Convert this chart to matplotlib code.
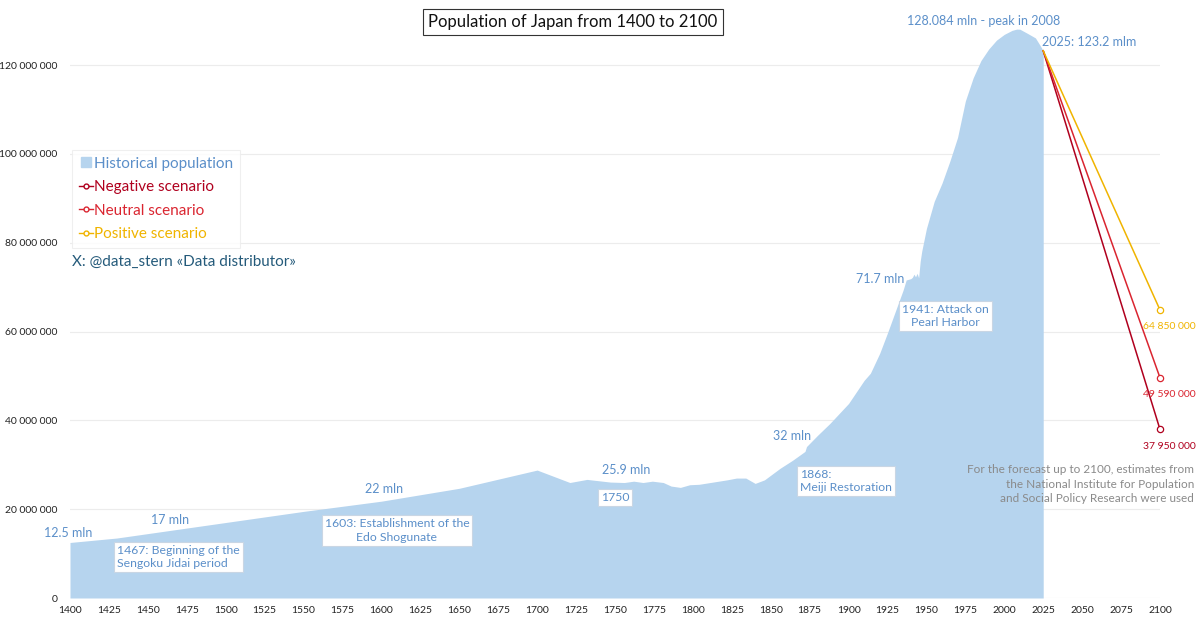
import matplotlib
matplotlib.use("Agg")
import matplotlib.pyplot as plt
from matplotlib.lines import Line2D
from matplotlib.ticker import FuncFormatter

plt.rcParams['font.family'] = ['Lato', 'DejaVu Sans']

# ---------------- data ----------------
hist_years = [1400, 1430, 1550, 1600, 1650, 1700, 1721, 1732, 1747, 1756, 1762, 1768,
              1774, 1781, 1786, 1792, 1798, 1804, 1822, 1828, 1834, 1840, 1846, 1856,
              1864, 1872, 1873, 1880, 1888, 1900, 1910, 1914, 1920, 1925, 1930, 1935,
              1937, 1940, 1941, 1942, 1943, 1944, 1945, 1946, 1947, 1950, 1955, 1960,
              1965, 1970, 1975, 1980, 1985, 1990, 1995, 2000, 2005, 2008, 2010, 2015,
              2020, 2023, 2025]
hist_pop_mln = [12.5, 13.5, 19.5, 21.8, 24.7, 28.8, 26.0, 26.7, 26.1, 26.0, 26.3, 26.0,
                26.3, 26.0, 25.2, 24.9, 25.5, 25.6, 26.6, 27.0, 27.0, 25.8, 26.6, 29.2,
                31.0, 33.0, 34.1, 36.6, 39.3, 43.8, 49.0, 50.6, 55.1, 59.7, 64.5, 69.3,
                71.6, 71.9, 72.2, 72.9, 72.3, 73.1, 72.1, 75.8, 78.1, 83.2, 89.3, 93.4,
                98.3, 103.7, 111.9, 117.1, 121.0, 123.6, 125.6, 126.9, 127.8, 128.084, 128.06, 127.1,
                126.1, 124.4, 123.2]

forecast_years = [2025, 2100]
negative_mln = [123.2, 37.95]
neutral_mln = [123.2, 49.59]
positive_mln = [123.2, 64.85]

scenario_names = ["Negative scenario", "Neutral scenario", "Positive scenario"]
end_labels = ["37 950 000", "49 590 000", "64 850 000"]

x_ticks = list(range(1400, 2101, 25))
y_ticks_mln = [0, 20, 40, 60, 80, 100, 120]

# ---------------- style ----------------
FILL = '#B6D4EE'
TXT_BLUE = '#5B8FC9'
C_NEG = '#B0001E'
C_NEU = '#DA2530'
C_POS = '#F0B400'

fig = plt.figure(figsize=(12, 6.18), dpi=100)
ax = fig.add_axes([70/1200, 20/618, 1090/1200, 577.4/618])

M = 1e6
ax.fill_between(hist_years, [v*M for v in hist_pop_mln], 0, color=FILL, lw=0, zorder=2)

series = [(negative_mln, C_NEG), (neutral_mln, C_NEU), (positive_mln, C_POS)]
for (vals, col), lab in zip(series, end_labels):
    ax.plot(forecast_years, [v*M for v in vals], color=col, lw=1.1, zorder=3,
            marker='o', markevery=[1], ms=4.5, mfc='white', mec=col, mew=0.9, clip_on=False)
    ax.annotate(lab, (forecast_years[1], vals[1]*M), xytext=(7, -12),
                textcoords='offset points', ha='center', va='center',
                fontsize=7.5, color=col, annotation_clip=False, zorder=5)

ax.set_xlim(1400, 2100)
ax.set_ylim(0, 130*M)
ax.set_xticks(x_ticks)
ax.set_yticks([v*M for v in y_ticks_mln])
ax.yaxis.set_major_formatter(FuncFormatter(lambda v, p: f"{int(round(v)):,}".replace(",", " ")))
ax.tick_params(axis='both', length=0, labelsize=7.5, labelcolor='#222222')
ax.tick_params(axis='y', pad=9)
ax.tick_params(axis='x', pad=6)
ax.grid(axis='y', color='#ececec', lw=0.8, zorder=0)
ax.set_axisbelow(True)
for s in ax.spines.values():
    s.set_visible(False)

# ---------------- annotations ----------------
def lbl(x, y, s, **kw):
    ax.text(x, y, s, color=TXT_BLUE, fontsize=9, ha='center', va='center', zorder=6, **kw)

lbl(1399, 14.6*M, "12.5 mln")
lbl(1464, 17.6*M, "17 mln")
lbl(1602, 24.6*M, "22 mln")
lbl(1757, 28.9*M, "25.9 mln")
lbl(1864, 36.5*M, "32 mln")
lbl(1920, 71.8*M, "71.7 mln")
lbl(1987, 129.9*M, "128.084 mln - peak in 2008")
ax.text(2024, 125.2*M, "2025: 123.2 mlm", color=TXT_BLUE, fontsize=9, ha='left',
        va='center', zorder=6)

box = dict(boxstyle='square,pad=0.25', fc='white', ec='#C9D6E4', lw=0.8)
ax.text(1430, 9.2*M, "1467: Beginning of the\nSengoku Jidai period", color=TXT_BLUE,
        fontsize=8.8, ha='left', va='center', bbox=box, zorder=6, linespacing=1.25)
ax.text(1610, 15.2*M, "1603: Establishment of the\nEdo Shogunate", color=TXT_BLUE,
        fontsize=8.8, ha='center', va='center', bbox=box, zorder=6, linespacing=1.25)
ax.text(1750, 22.7*M, "1750", color=TXT_BLUE, fontsize=8.8, ha='center', va='center',
        bbox=box, zorder=6)
ax.text(1869, 26.3*M, "1868:\nMeiji Restoration", color=TXT_BLUE, fontsize=8.8,
        ha='left', va='center', bbox=box, zorder=6, linespacing=1.25)
ax.text(1962, 63.5*M, "1941: Attack on\nPearl Harbor", color=TXT_BLUE, fontsize=8.8,
        ha='center', va='center', bbox=box, zorder=6, linespacing=1.25)

fig.text(1194/1200, 1 - 484/618,
         "For the forecast up to 2100, estimates from\nthe National Institute for Population\nand Social Policy Research were used",
         ha='right', va='center', fontsize=8.5, color='#8a8a8a', linespacing=1.4, zorder=7)

# title
fig.text(573/1200, 1 - 22/618, "Population of Japan from 1400 to 2100", ha='center',
         va='center', fontsize=12, color='#111111',
         bbox=dict(boxstyle='square,pad=0.3', fc='white', ec='#333333', lw=0.8))

# legend
handles = [
    Line2D([], [], ls='none', marker='s', ms=7, color=FILL),
    Line2D([], [], color=C_NEG, lw=1, marker='o', ms=3.5, mfc='white', mec=C_NEG),
    Line2D([], [], color=C_NEU, lw=1, marker='o', ms=3.5, mfc='white', mec=C_NEU),
    Line2D([], [], color=C_POS, lw=1, marker='o', ms=3.5, mfc='white', mec=C_POS),
]
labels = ["Historical population"] + scenario_names
leg = ax.legend(handles, labels, loc='upper left', bbox_to_anchor=(0.002, 0.776),
                borderaxespad=0, fontsize=11, handlelength=0.9, handletextpad=0.05,
                labelspacing=0.62, frameon=True, fancybox=False, borderpad=0.45,
                labelcolor=[TXT_BLUE, C_NEG, C_NEU, C_POS])
leg.get_frame().set_edgecolor('#ececec')
leg.get_frame().set_linewidth(0.8)
leg.set_zorder(8)

fig.text(72/1200, 1 - 262/618, "X: @data_stern «Data distributor»", ha='left',
         va='center', fontsize=11, color='#245A7A')

fig.savefig("out.png", dpi=100)
